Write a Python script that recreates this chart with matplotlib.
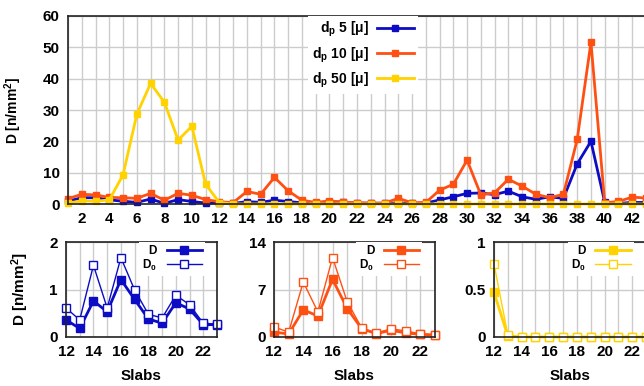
import matplotlib
matplotlib.use("Agg")
import matplotlib.pyplot as plt
from matplotlib.ticker import MultipleLocator

plt.rcParams['font.family'] = ['Liberation Sans', 'DejaVu Sans']
plt.rcParams['font.weight'] = 'bold'
plt.rcParams['mathtext.fontset'] = 'custom'
plt.rcParams['mathtext.rm'] = 'Liberation Sans:bold'
plt.rcParams['mathtext.it'] = 'Liberation Sans:bold'
plt.rcParams['mathtext.bf'] = 'Liberation Sans:bold'
plt.rcParams['mathtext.default'] = 'regular'

# concentration per slab for each particle diameter
slabs = list(range(1, 44))
dp5 = [0.9, 2.0, 2.0, 1.3, 0.9, 0.5, 1.6, 0.2, 1.4, 0.8,
       0.3, 0.36, 0.18, 0.76, 0.53, 1.21, 0.79, 0.38, 0.29, 0.72,
       0.59, 0.26, 0.26, 0.2, 0.3, 0.2, 0.3, 1.3, 2.3, 3.4,
       3.5, 3.0, 4.1, 2.3, 1.5, 2.3, 1.8, 12.8, 20.0, 0.6,
       0.2, 0.5, 0.5]
dp10 = [1.7, 3.1, 2.9, 2.1, 2.0, 1.8, 3.4, 1.2, 3.4, 2.8,
        1.4, 0.73, 0.44, 4.0, 3.1, 8.5, 4.2, 1.2, 0.5, 1.0,
        0.6, 0.4, 0.3, 0.3, 1.8, 0.4, 0.5, 4.4, 6.3, 14.0,
        2.9, 3.6, 7.9, 5.7, 3.1, 2.0, 3.1, 20.6, 51.6, 0.4,
        0.8, 2.2, 1.9]
dp50 = [0.3, 1.0, 0.9, 1.3, 9.3, 28.6, 38.5, 32.5, 20.4, 24.8,
        6.3, 0.47, 0.01, 0, 0, 0, 0, 0, 0, 0,
        0, 0, 0, 0, 0, 0, 0, 0, 0, 0,
        0, 0, 0, 0, 0, 0, 0, 0, 0, 0,
        0, 0, 0]
series_labels = ['d$_p$ 5 [μ]', 'd$_p$ 10 [μ]', 'd$_p$ 50 [μ]']

# zoom on slabs 12-23: D and D0
zoom_slabs = list(range(12, 24))
d_5 = [0.36, 0.18, 0.76, 0.53, 1.21, 0.79, 0.38, 0.29, 0.72, 0.59, 0.26, 0.26]
d0_5 = [0.61, 0.36, 1.51, 0.61, 1.67, 0.99, 0.48, 0.40, 0.88, 0.68, 0.29, 0.27]
d_10 = [0.73, 0.44, 4.0, 3.1, 8.5, 4.2, 1.2, 0.5, 1.0, 0.6, 0.4, 0.3]
d0_10 = [1.5, 0.7, 8.1, 3.7, 11.7, 5.2, 1.3, 0.6, 1.2, 0.9, 0.45, 0.3]
d_50 = [0.47, 0.01, 0, 0, 0, 0, 0, 0, 0, 0, 0, 0]
d0_50 = [0.77, 0.02, 0, 0, 0, 0, 0, 0, 0, 0, 0, 0]

colors = ['#0c0cc4', '#ff5014', '#ffd200']
ylab = 'D [n/mm$^2$]'

fig = plt.figure(figsize=(6.44, 3.86), dpi=100)


def style(ax):
    ax.tick_params(which='both', length=0, labelsize=11, pad=6)
    ax.grid(True, which='both', color='#cccccc', linewidth=1.0)
    ax.set_axisbelow(True)
    for s in ax.spines.values():
        s.set_linewidth(1.2)
        s.set_color('#222222')


# ---- main panel ----
ax = fig.add_axes([68 / 644, 1 - 204 / 386, 578 / 644, 188 / 386])
for vals, c, lab in zip([dp5, dp10, dp50], colors, series_labels):
    ax.plot(slabs, vals, color=c, lw=2, marker='s', ms=5, label=lab, clip_on=False)
ax.set_xlim(1, 43)
ax.set_ylim(0, 60)
ax.xaxis.set_major_locator(MultipleLocator(2))
ax.xaxis.set_minor_locator(MultipleLocator(1))
ax.yaxis.set_major_locator(MultipleLocator(10))
style(ax)
ax.set_ylabel(ylab, fontsize=10, fontweight='bold')
ax.yaxis.set_label_coords(-0.076, 0.5)
leg = ax.legend(loc='upper right', bbox_to_anchor=(0.605, 1.0), markerfirst=False,
                frameon=True, fancybox=False, framealpha=1, edgecolor='none',
                prop={'size': 10, 'weight': 'bold'}, handlelength=2.6,
                handletextpad=0.6, labelspacing=0.42, borderaxespad=0, borderpad=0.3)

# ---- zoom panels ----
zooms = [(d_5, d0_5, 2, 1), (d_10, d0_10, 14, 7), (d_50, d0_50, 1, 0.5)]
lefts = [66, 274, 494]
widths = [151, 161, 152]
for i, ((d, d0, top, step), c) in enumerate(zip(zooms, colors)):
    bx = fig.add_axes([lefts[i] / 644, 1 - 337 / 386, widths[i] / 644, 95 / 386])
    bx.plot(zoom_slabs, d, color=c, lw=2, marker='s', ms=5.5, label='D', clip_on=False)
    bx.plot(zoom_slabs, d0, color=c, lw=1, marker='s', ms=6, mfc='white',
            mec=c, mew=1, label='D$_0$', clip_on=False)
    bx.set_xlim(12, 23)
    bx.set_ylim(0, top)
    bx.xaxis.set_major_locator(MultipleLocator(2))
    bx.xaxis.set_minor_locator(MultipleLocator(1))
    bx.yaxis.set_major_locator(MultipleLocator(step))
    bx.yaxis.set_major_formatter(plt.FuncFormatter(lambda v, p: f'{v:g}'))
    style(bx)
    bx.set_xlabel('Slabs', fontsize=11, fontweight='bold', labelpad=7)
    if i == 0:
        bx.set_ylabel(ylab, fontsize=11, fontweight='bold')
        bx.yaxis.set_label_coords(-0.232, 0.5)
    bx.legend(loc='upper right', bbox_to_anchor=(0.92, 1.0), markerfirst=False,
              frameon=True, fancybox=False, framealpha=1, edgecolor='none',
              prop={'size': 8.5, 'weight': 'bold'}, handlelength=3.0,
              handletextpad=0.8, labelspacing=0.05, borderaxespad=0, borderpad=0.25)

fig.savefig('out.png', dpi=100)
